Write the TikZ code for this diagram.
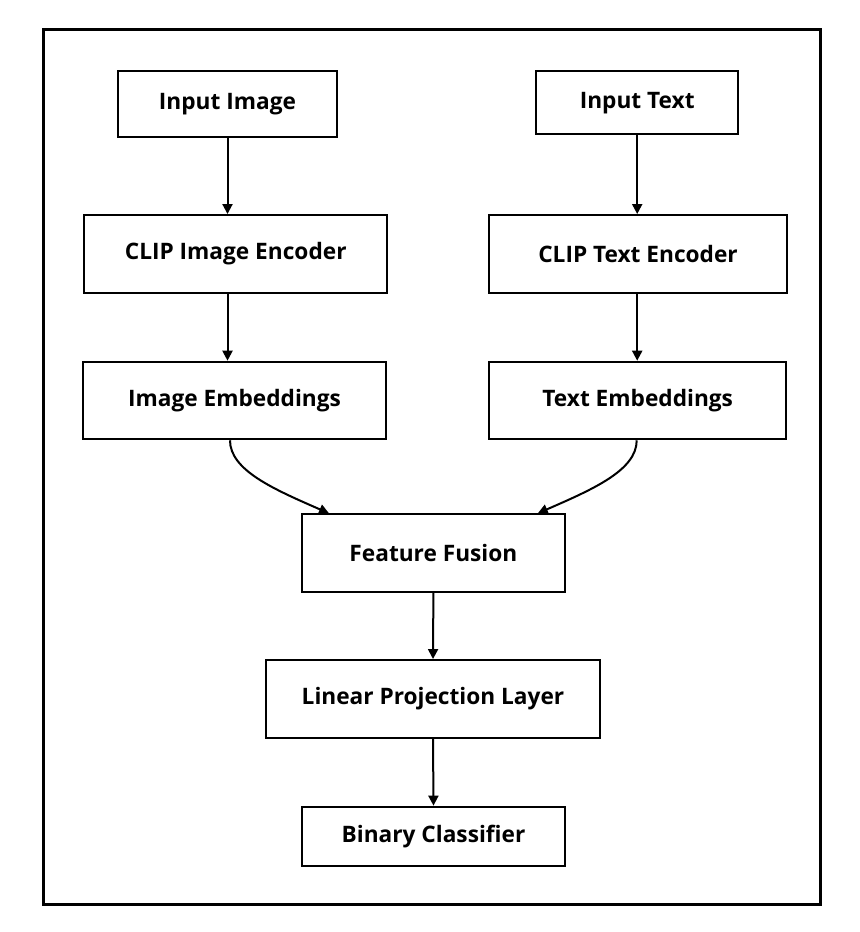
\documentclass[tikz,border=0pt]{standalone}
\usepackage{fontspec}
\setmainfont{Open Sans}
\usetikzlibrary{arrows.meta,calc}
\tikzset{
  box/.style={draw, line width=1.5pt, fill=white, font=\bfseries\fontsize{17}{20}\selectfont, inner sep=0pt},
  arr/.style={line width=1.5pt, -{Triangle[length=7.5pt,width=7.5pt]}},
  frame/.style={line width=2.3pt}
}
\begin{document}
\begin{tikzpicture}[x=0.75pt,y=-0.75pt]
\path[use as bounding box, fill=white] (0,0) rectangle (860,932);
\draw[frame] (43.3,29.2) rectangle (820.3,904.5);
\node[box, minimum width=164.5pt, minimum height=49.5pt] (ii) at (227.5,104.3) {Input Image};
\node[box, minimum width=151.7pt, minimum height=47.3pt] (it) at (637.2,102.8) {Input Text};
\node[box, minimum width=227pt, minimum height=58.3pt] (cie) at (235.7,253.9) {CLIP Image Encoder};
\node[box, minimum width=223pt, minimum height=58.3pt] (cte) at (638,253.9) {CLIP Text Encoder};
\node[box, minimum width=226.8pt, minimum height=58.2pt] (ie) at (234.5,400.5) {Image Embeddings};
\node[box, minimum width=222.5pt, minimum height=58.2pt] (te) at (637.7,400.5) {Text Embeddings};
\node[box, minimum width=197.5pt, minimum height=58pt] (ff) at (433.4,553) {Feature Fusion};
\node[box, minimum width=250.5pt, minimum height=58.3pt] (lp) at (433,698.9) {Linear Projection Layer};
\node[box, minimum width=197.3pt, minimum height=44.5pt] (bc) at (433.5,836.3) {Binary Classifier};
\draw[arr] (ii.south) -- (ii.south |- cie.north);
\draw[arr] (cie.south -| ii.south) -- (ie.north -| ii.south);
\draw[arr] (it.south) -- (it.south |- cte.north);
\draw[arr] (cte.south -| it.south) -- (te.north -| it.south);
\draw[arr] ($(ie.south)+(-4.5,0)$) .. controls ($(ie.south)+(-4.5,30)$) and ($(ff.north west)+(-26.7,-24)$) .. ($(ff.north west)+(28.3,0)$);
\draw[arr] ($(te.south)+(-1,0)$) .. controls ($(te.south)+(-1,30)$) and ($(ff.north east)+(26.7,-24)$) .. ($(ff.north east)+(-28.3,0)$);
\draw[arr] (ff.south) -- (lp.north);
\draw[arr] (lp.south) -- (bc.north);
\end{tikzpicture}
\end{document}
